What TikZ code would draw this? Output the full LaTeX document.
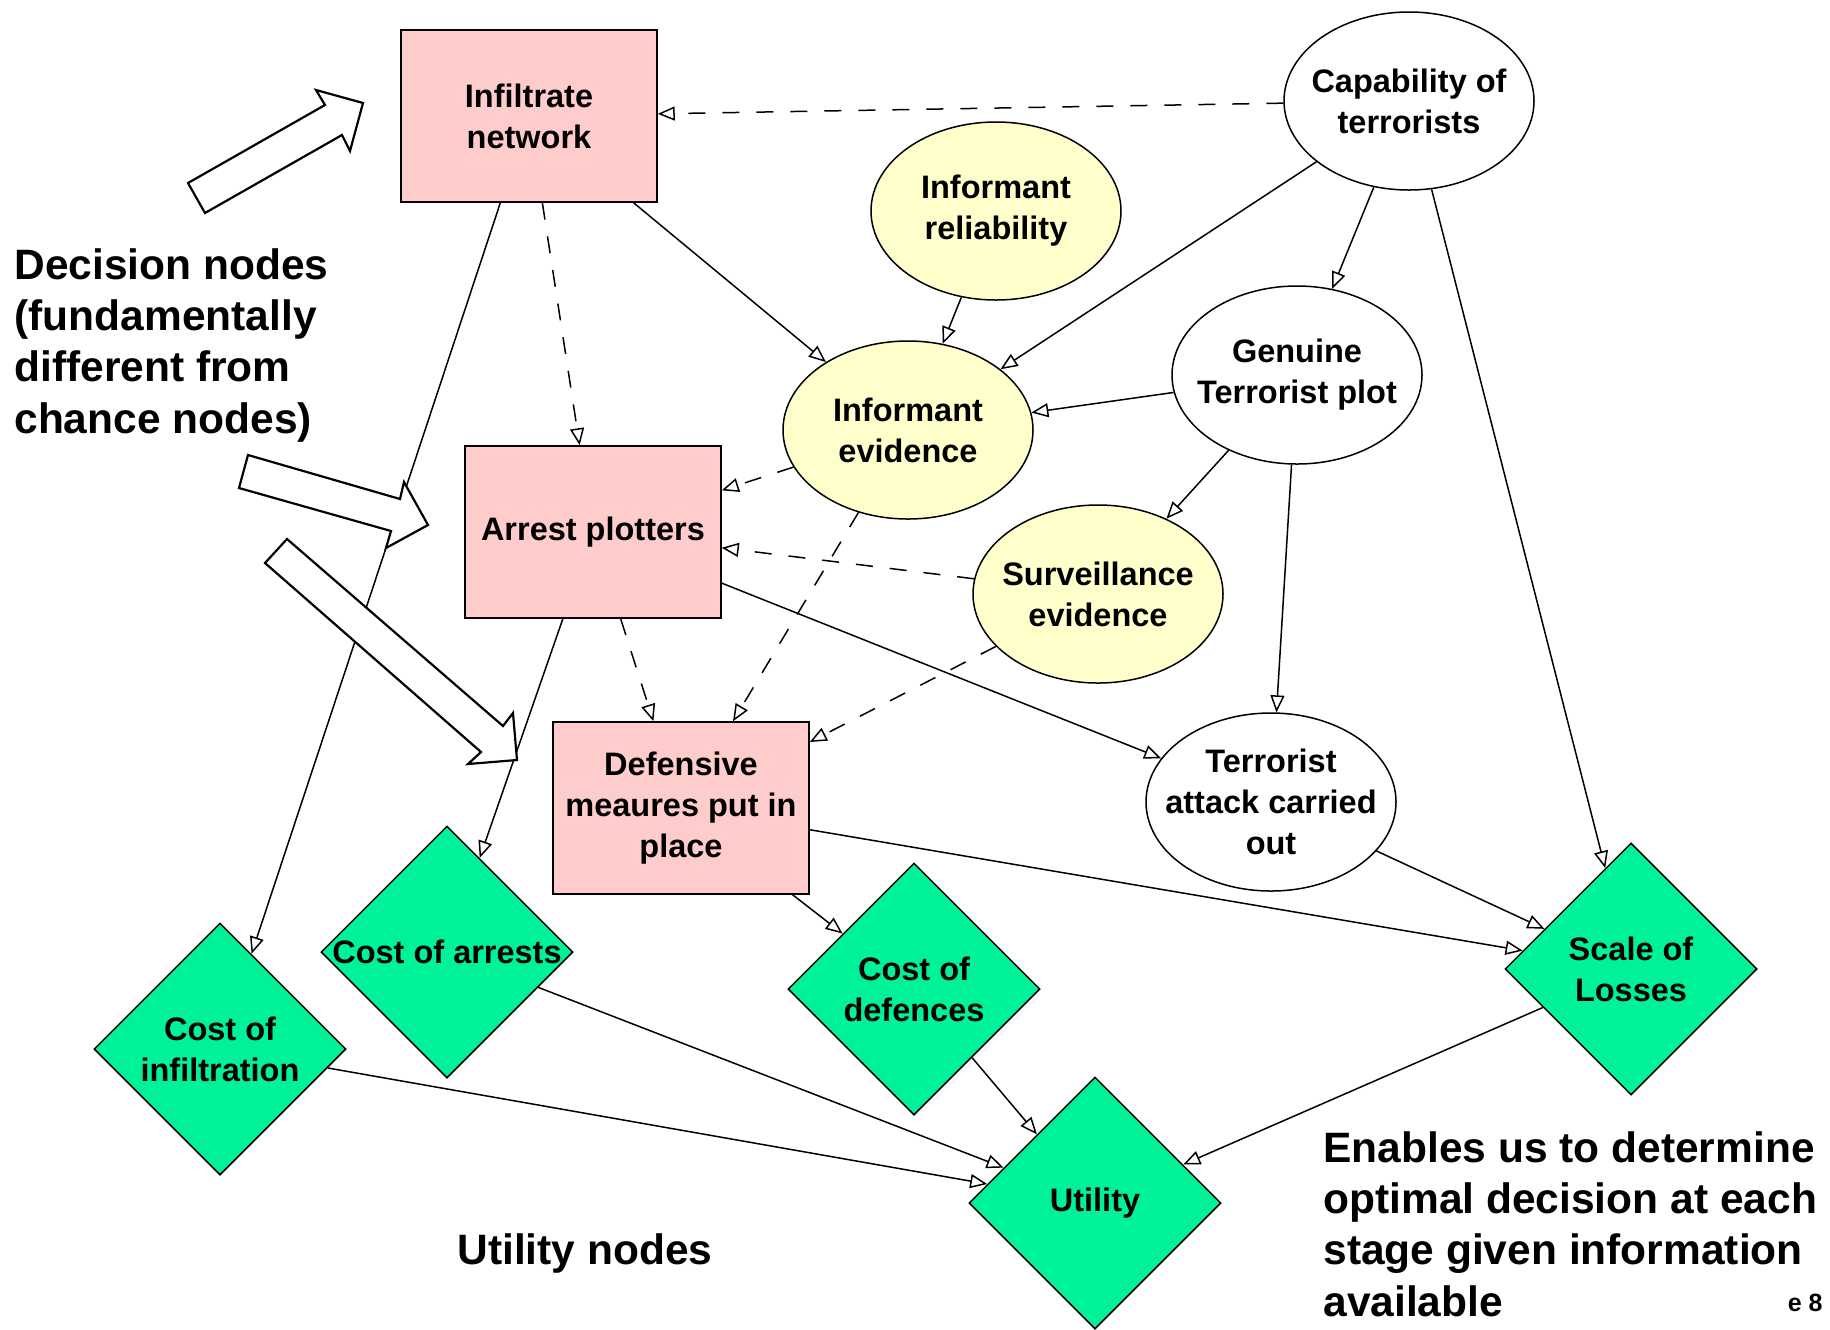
\documentclass[tikz,border=0pt]{standalone}
\usepackage{fontspec}
\setmainfont{Liberation Sans}
\usetikzlibrary{shapes.geometric,arrows.meta}

\definecolor{decisionpink}{RGB}{255,204,204}
\definecolor{chanceyellow}{RGB}{255,255,204}
\definecolor{utilgreen}{RGB}{0,242,152}

\begin{document}
\begin{tikzpicture}[x=0.5pt,y=-0.5pt,
  decision/.style={rectangle, draw, line width=0.75pt, fill=decisionpink,
    minimum width=128pt, minimum height=86pt, inner sep=0pt},
  chance/.style={ellipse, draw, line width=0.75pt, fill=white,
    minimum width=125pt, minimum height=89pt, inner sep=0pt},
  evidence/.style={chance, fill=chanceyellow},
  utility/.style={diamond, draw, line width=0.75pt, fill=utilgreen,
    minimum width=126pt, minimum height=126pt, inner sep=0pt},
  nodetext/.style={align=center, inner sep=0pt,
    font=\fontsize{16.25}{20.5}\selectfont\bfseries},
  link/.style={line width=0.75pt,
    -{Triangle[open, length=8.5pt, width=7pt, line width=0.75pt]}},
  infolink/.style={link, dash pattern=on 8.5pt off 8.5pt},
  bigarrow/.style={draw, fill=white, line width=1.1pt, line join=miter},
  caption/.style={align=left, inner sep=0pt,
    font=\fontsize{21.25}{25.6}\selectfont\bfseries},
]
\fill[white] (0,0) rectangle (1830,1329);
\useasboundingbox (0,0) rectangle (1830,1329);

% decision nodes
\node[decision, label={[nodetext]center:{Infiltrate\\network}}] (inf) at (529,116) {};
\node[decision, label={[nodetext]center:{Arrest plotters}}] (arr) at (593,532) {};
\node[decision, label={[nodetext]center:{Defensive\\meaures put in\\place}}] (def) at (681,808) {};

% chance nodes
\node[chance, label={[nodetext]center:{Capability of\\terrorists}}] (cap) at (1409,101) {};
\node[evidence, label={[nodetext]center:{Informant\\reliability}}] (rel) at (996,211) {};
\node[evidence, label={[nodetext]center:{Informant\\evidence}}] (evi) at (908,430) {};
\node[chance, label={[nodetext]center:{Genuine\\Terrorist plot}}] (gen) at (1297,375) {};
\node[evidence, label={[nodetext]center:{Surveillance\\evidence}}] (sur) at (1098,594) {};
\node[chance, label={[nodetext]center:{Terrorist\\attack carried\\out}}] (att) at (1271,802) {};

% utility nodes
\node[utility, label={[nodetext]center:{Cost of arrests}}] (carr) at (447,952) {};
\node[utility, label={[nodetext]center:{Cost of\\infiltration}}] (cinf) at (220,1049) {};
\node[utility, label={[nodetext]center:{Cost of\\defences}}] (cdef) at (914,989) {};
\node[utility, label={[nodetext]center:{Utility}}] (uti) at (1095,1203) {};
\node[utility, label={[nodetext]center:{Scale of\\Losses}}] (los) at (1631,969) {};

% information links (dashed)
\draw[infolink] (cap) -- (inf);
\draw[infolink] (inf) -- (arr);
\draw[infolink] (evi) -- (arr);
\draw[infolink] (sur) -- (arr);
\draw[infolink] (arr) -- (def);
\draw[infolink] (evi) -- (def);
\draw[infolink] (sur) -- (def);

% causal links
\draw[link] (inf) -- (evi);
\draw[link] (inf) -- (cinf);
\draw[link] (cap) -- (evi);
\draw[link] (cap) -- (gen);
\draw[link] (cap) -- (los);
\draw[link] (rel) -- (evi);
\draw[link] (gen) -- (evi);
\draw[link] (gen) -- (sur);
\draw[link] (gen) -- (att);
\draw[link] (arr) -- (att);
\draw[link] (arr) -- (carr);
\draw[link] (def) -- (cdef);
\draw[link] (def) -- (los);
\draw[link] (att) -- (los);
\draw[link] (carr) -- (uti);
\draw[link] (cinf) -- (uti);
\draw[link] (cdef) -- (uti);
\draw[link] (los) -- (uti);

% pointer arrows to the decision nodes
\draw[bigarrow] (188,183) -- (325,105) -- (316,90) -- (363,103) -- (350,151)
  -- (342,135) -- (205,213) -- cycle;
\draw[bigarrow] (248,455) -- (400,499) -- (404,482) -- (428,525) -- (386,548)
  -- (391,531) -- (239,488) -- cycle;
\draw[bigarrow] (287,539) -- (503,726) -- (513,713) -- (517,760) -- (468,764)
  -- (481,752) -- (265,563) -- cycle;

% annotations (anchored at the baseline of their last line)
\node[caption, anchor=base west] (decnote) at (14,433)
  {Decision nodes\\(fundamentally\\different from\\chance nodes)};
\node[caption, anchor=base west] (utinote) at (457,1264) {Utility nodes};
\node[caption, anchor=base west] (enote) at (1323,1316)
  {Enables us to determine\\optimal decision at each\\stage given information\\available};
\node[anchor=base east, inner sep=0pt,
  font=\fontsize{12.5}{15}\selectfont\bfseries] (pageno) at (1823,1311) {e 8};
\end{tikzpicture}
\end{document}
